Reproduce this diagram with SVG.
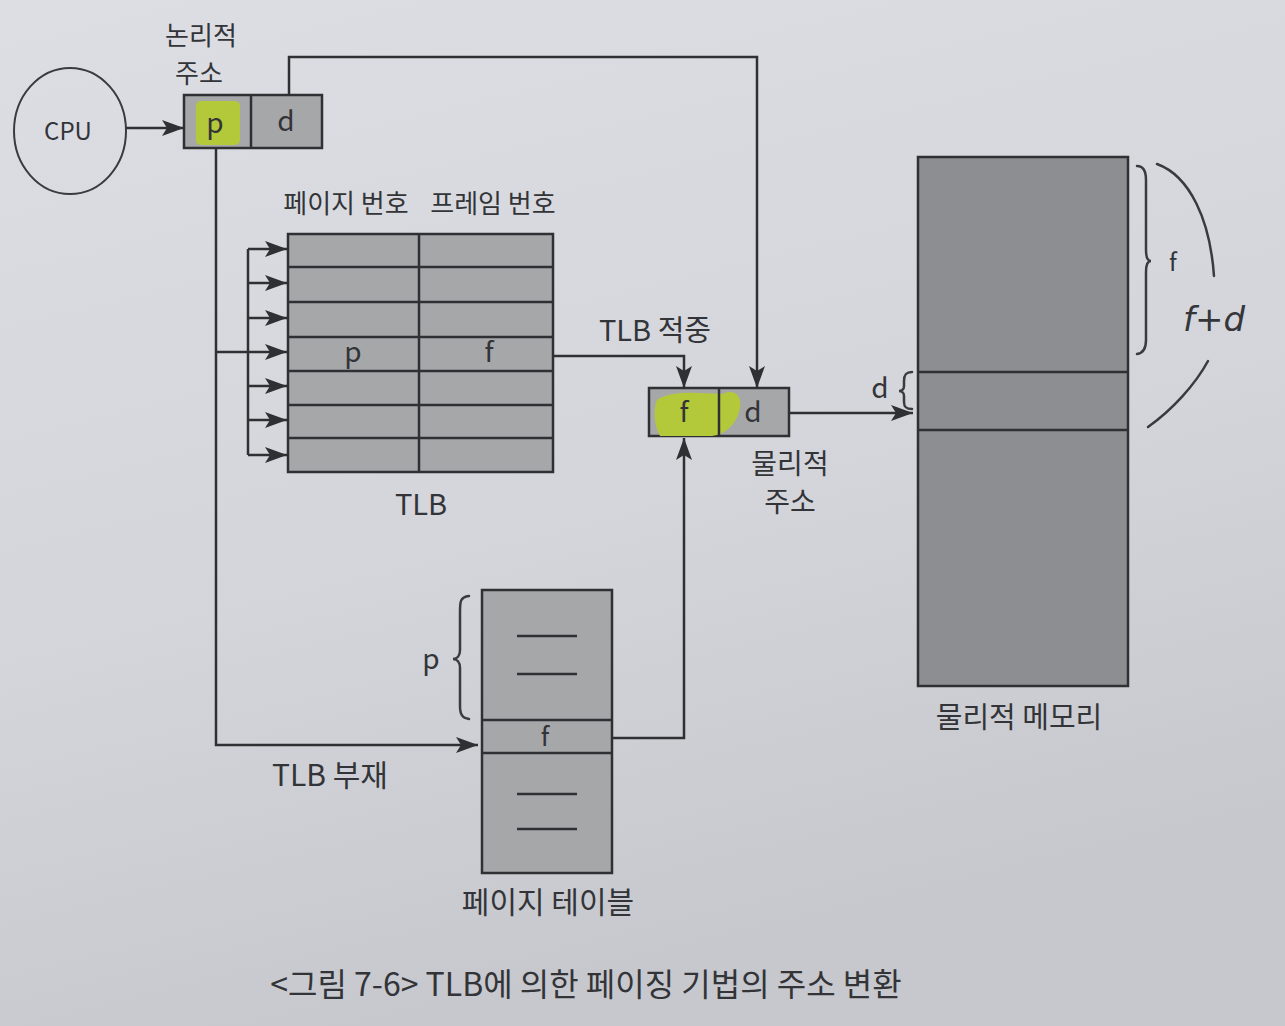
<svg xmlns="http://www.w3.org/2000/svg" width="1285" height="1026" viewBox="0 0 1285 1026">
  <defs>
    <linearGradient id="paper" x1="0" y1="0" x2="0.3" y2="1">
      <stop offset="0" stop-color="#dcdee3"/>
      <stop offset="0.6" stop-color="#d3d5da"/>
      <stop offset="1" stop-color="#c6c8cd"/>
    </linearGradient>
    <marker id="arrow" viewBox="0 0 22 16" refX="22" refY="8" markerWidth="22" markerHeight="16" markerUnits="userSpaceOnUse" orient="auto">
      <path d="M0,0 L22,8 L0,16 L5,8 Z" fill="#2f3033"/>
    </marker>
    <style>
      .line { fill: none; stroke: #2f3033; stroke-width: 2.5; }
      .box { stroke: #2f3033; stroke-width: 2.5; }
      .cell { fill: #a6a7a9; }
      .mem { fill: #8d8e92; }
      .hl { fill: #b4c93a; }
      .txt { font-family: "Noto Sans CJK KR", "Noto Sans", sans-serif; fill: #333438; }
      .hand { fill: none; stroke: #3a3b3e; stroke-width: 2.5; stroke-linecap: round; }
    </style>
  </defs>

  <rect width="1285" height="1026" fill="url(#paper)"/>

  <!-- CPU -->
  <g id="cpu">
    <ellipse cx="70" cy="131" rx="56" ry="63" fill="none" stroke="#3a3b3e" stroke-width="2"/>
    <text class="txt" x="68" y="140" font-size="24" text-anchor="middle">CPU</text>
  </g>

  <!-- Logical address register -->
  <g id="logical-address">
    <text class="txt" x="201" y="45" font-size="26" text-anchor="middle">논리적</text>
    <text class="txt" x="199" y="83" font-size="26" text-anchor="middle">주소</text>
    <rect class="box cell" x="184" y="95" width="138" height="53"/>
    <rect class="hl" x="196" y="101" width="44" height="44" rx="5"/>
    <line class="line" x1="251" y1="95" x2="251" y2="148"/>
    <text class="txt" x="215" y="133" font-size="28" text-anchor="middle">p</text>
    <text class="txt" x="286" y="131" font-size="28" text-anchor="middle">d</text>
  </g>

  <!-- TLB -->
  <g id="tlb">
    <text class="txt" x="346" y="213" font-size="26" text-anchor="middle">페이지 번호</text>
    <text class="txt" x="493" y="213" font-size="26" text-anchor="middle">프레임 번호</text>
    <rect class="box cell" x="288" y="234" width="265" height="238"/>
    <line class="line" x1="419" y1="234" x2="419" y2="472"/>
    <line class="line" x1="288" y1="267" x2="553" y2="267"/>
    <line class="line" x1="288" y1="302" x2="553" y2="302"/>
    <line class="line" x1="288" y1="337" x2="553" y2="337"/>
    <line class="line" x1="288" y1="371" x2="553" y2="371"/>
    <line class="line" x1="288" y1="405" x2="553" y2="405"/>
    <line class="line" x1="288" y1="438" x2="553" y2="438"/>
    <text class="txt" x="353" y="362" font-size="28" text-anchor="middle">p</text>
    <text class="txt" x="489" y="362" font-size="28" text-anchor="middle">f</text>
    <text class="txt" x="421" y="515" font-size="29" text-anchor="middle">TLB</text>
  </g>

  <!-- Physical address register -->
  <g id="physical-address">
    <rect class="box cell" x="649" y="388" width="140" height="48"/>
    <path class="hl" d="M657,400 C670,390 700,393 722,394 C735,388 742,396 740,408 C737,424 726,434 712,436 L660,436 C654,425 653,410 657,400 Z"/>
    <line class="line" x1="719" y1="388" x2="719" y2="436"/>
    <text class="txt" x="684" y="422" font-size="28" text-anchor="middle">f</text>
    <text class="txt" x="753" y="422" font-size="28" text-anchor="middle">d</text>
    <text class="txt" x="790" y="474" font-size="28" text-anchor="middle">물리적</text>
    <text class="txt" x="790" y="512" font-size="28" text-anchor="middle">주소</text>
  </g>

  <!-- Page table -->
  <g id="page-table">
    <rect class="box cell" x="482" y="590" width="130" height="283"/>
    <line class="line" x1="482" y1="720" x2="612" y2="720"/>
    <line class="line" x1="482" y1="753" x2="612" y2="753"/>
    <line class="line" x1="517" y1="636" x2="577" y2="636"/>
    <line class="line" x1="517" y1="674" x2="577" y2="674"/>
    <line class="line" x1="517" y1="794" x2="577" y2="794"/>
    <line class="line" x1="517" y1="829" x2="577" y2="829"/>
    <text class="txt" x="545" y="746" font-size="26" text-anchor="middle">f</text>
    <path class="hand" d="M469,596 C460,597 460,602 460,612 L460,650 C460,656 457,659 453,659 C457,659 460,662 460,668 L460,706 C460,714 462,718 469,719" stroke-width="2"/>
    <text class="txt" x="431" y="669" font-size="28" text-anchor="middle">p</text>
    <text class="txt" x="548" y="913" font-size="30" text-anchor="middle">페이지 테이블</text>
  </g>

  <!-- Physical memory -->
  <g id="physical-memory">
    <rect class="box mem" x="918" y="157" width="210" height="529" stroke-width="2"/>
    <line class="line" x1="918" y1="372" x2="1128" y2="372" stroke-width="2"/>
    <line class="line" x1="918" y1="430" x2="1128" y2="430" stroke-width="2"/>
    <text class="txt" x="1019" y="728" font-size="29" text-anchor="middle">물리적 메모리</text>
    <!-- offset brace -->
    <text class="txt" x="880" y="398" font-size="28" text-anchor="middle">d</text>
    <path class="hand" d="M912,372 C905,372 904,376 904,381 L904,386 C904,389 902,391 899,391 C902,391 904,393 904,396 L904,402 C904,407 906,409 912,409" stroke-width="2"/>
    <!-- frame brace -->
    <path class="hand" d="M1137,166 C1144,166 1146,172 1146,180 L1146,250 C1146,258 1148,261 1151,261 C1148,261 1146,264 1146,272 L1146,340 C1146,348 1144,353 1137,354" stroke-width="2"/>
    <text class="txt" x="1173" y="271" font-size="24" text-anchor="middle">f</text>
    <!-- handwritten f+d span -->
    <path class="hand" d="M1157,164 C1190,176 1210,220 1214,276"/>
    <path class="hand" d="M1208,361 C1195,385 1172,410 1148,427"/>
    <text x="1214" y="331" font-size="34" text-anchor="middle" font-family="DejaVu Sans, sans-serif" fill="#35363a" font-style="italic">f+d</text>
  </g>

  <!-- Connectors -->
  <g id="connectors">
    <line class="line" x1="126" y1="128" x2="184" y2="128" marker-end="url(#arrow)"/>
    <polyline class="line" points="289,95 289,57 757,57 757,388" marker-end="url(#arrow)"/>
    <polyline class="line" points="216,148 216,745 478,745" marker-end="url(#arrow)"/>
    <line class="line" x1="216" y1="352" x2="248" y2="352"/>
    <line class="line" x1="248" y1="249" x2="248" y2="455"/>
    <line class="line" x1="248" y1="249" x2="287" y2="249" marker-end="url(#arrow)"/>
    <line class="line" x1="248" y1="283" x2="287" y2="283" marker-end="url(#arrow)"/>
    <line class="line" x1="248" y1="318" x2="287" y2="318" marker-end="url(#arrow)"/>
    <line class="line" x1="248" y1="352" x2="287" y2="352" marker-end="url(#arrow)"/>
    <line class="line" x1="248" y1="386" x2="287" y2="386" marker-end="url(#arrow)"/>
    <line class="line" x1="248" y1="420" x2="287" y2="420" marker-end="url(#arrow)"/>
    <line class="line" x1="248" y1="455" x2="287" y2="455" marker-end="url(#arrow)"/>
    <polyline class="line" points="553,356 684,356 684,388" marker-end="url(#arrow)"/>
    <polyline class="line" points="612,738 684,738 684,438" marker-end="url(#arrow)"/>
    <line class="line" x1="790" y1="413" x2="913" y2="413" marker-end="url(#arrow)"/>
    <text class="txt" x="655" y="341" font-size="29" text-anchor="middle">TLB 적중</text>
    <text class="txt" x="330" y="786" font-size="30" text-anchor="middle">TLB 부재</text>
  </g>

  <text class="txt" x="586" y="996" font-size="32" text-anchor="middle">&lt;그림 7-6&gt; TLB에 의한 페이징 기법의 주소 변환</text>
</svg>
